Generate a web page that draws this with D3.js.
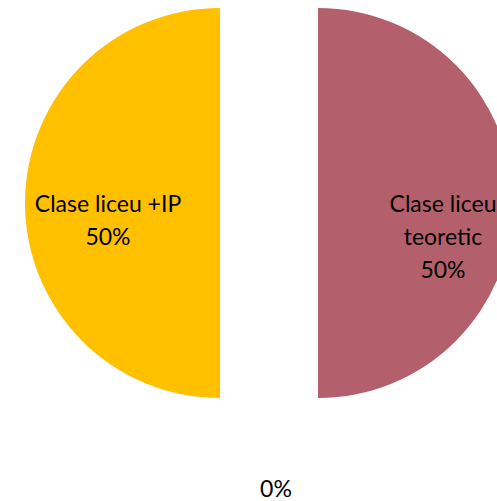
<!DOCTYPE html>
<html>
<head>
<meta charset="utf-8">
<script src="https://cdn.jsdelivr.net/npm/d3@7"></script>
<style>
  body { margin: 0; background: #fff; }
  svg { display: block; }
  .lbl { font-family: Lato, "Open Sans", sans-serif; font-size: 23px; fill: #000; }
</style>
</head>
<body>
<svg width="497" height="501"></svg>
<script>
// slices, clockwise from 12 o'clock
const categories = ['Clase liceu teoretic', '', 'Clase liceu +IP'];
const values = [50, 0, 50];
const percentLabels = ['50%', '0%', '50%'];
const colors = ['#B4606C', '#A5A5A5', '#FFC000'];

const svg = d3.select('svg');
const width = +svg.attr('width');
const height = +svg.attr('height');

const cx = 269, cy = 203;
const radius = 195;
const explode = 49;

const data = categories.map((c, i) => ({ name: c, value: values[i], pct: percentLabels[i], color: colors[i] }));

const pie = d3.pie().sort(null).value(d => d.value);
const arc = d3.arc().innerRadius(0).outerRadius(radius);

const arcs = pie(data);
const g = svg.append('g').attr('transform', `translate(${cx},${cy})`);

const shift = d => {
  const a = (d.startAngle + d.endAngle) / 2;
  return [Math.sin(a) * explode, -Math.cos(a) * explode];
};

g.selectAll('path').data(arcs.filter(d => d.value > 0))
  .enter().append('path')
    .attr('d', arc)
    .attr('fill', d => d.data.color)
    .attr('transform', d => `translate(${shift(d)})`);

// data labels
const lineH = 33;
arcs.forEach(d => {
  const a = (d.startAngle + d.endAngle) / 2;
  let lines, x, y;
  if (d.value === 0) {
    lines = [d.data.pct];
    x = 7; y = 286;
  } else if (a < Math.PI) {
    lines = ['Clase liceu', 'teoretic', d.data.pct];
    x = explode + 125; y = 34;
  } else {
    lines = [d.data.name, d.data.pct];
    x = -explode - 112; y = 17;
  }
  const t = g.append('text').attr('class', 'lbl')
    .attr('text-anchor', 'middle')
    .attr('transform', `translate(${x},${y})`);
  lines.forEach((l, i) => {
    t.append('tspan').attr('x', 0)
      .attr('y', (i - (lines.length - 1) / 2) * lineH)
      .attr('dy', '0.35em')
      .text(l);
  });
});
</script>
</body>
</html>
